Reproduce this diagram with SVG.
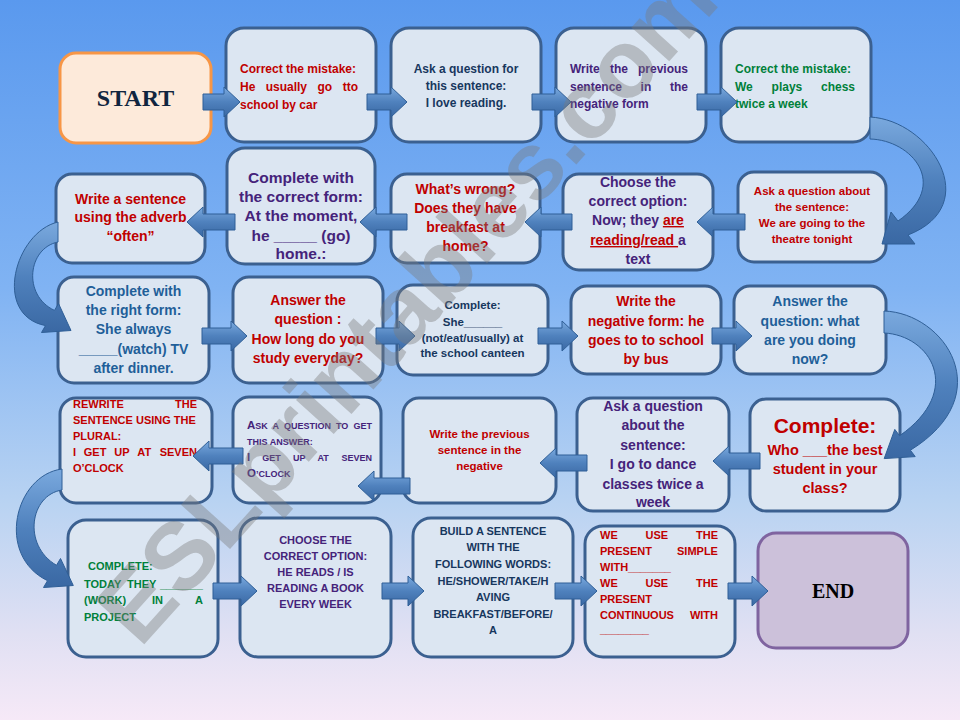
<svg xmlns="http://www.w3.org/2000/svg" width="960" height="720" viewBox="0 0 960 720">
<defs>
<linearGradient id="bg" x1="0" y1="0" x2="0" y2="1">
<stop offset="0" stop-color="#5a99ee"/>
<stop offset="0.4" stop-color="#80b3f3"/>
<stop offset="0.7" stop-color="#b9d3f2"/>
<stop offset="0.88" stop-color="#e0e0f3"/>
<stop offset="1" stop-color="#f6e9f7"/>
</linearGradient>
<linearGradient id="ag" x1="0" y1="0" x2="0" y2="1">
<stop offset="0" stop-color="#7aa9de"/>
<stop offset="0.5" stop-color="#4f81bd"/>
<stop offset="1" stop-color="#3a68a3"/>
</linearGradient>
<style>
.box{fill:#dce6f2;stroke:#3b6090;stroke-width:3}
text{font-family:"Liberation Sans",Arial,sans-serif;font-weight:bold}
.c{text-anchor:middle}
.e{text-anchor:end}
.s9{font-size:9px}.s11{font-size:11px}.s115{font-size:11.5px}.s12{font-size:12px}.s14{font-size:14px}.s145{font-size:14.5px}.s155{font-size:15.5px}
.red{fill:#c00000}.navy{fill:#17375e}.pur{fill:#45237a}.grn{fill:#00803a}.blu{fill:#1f5f99}
.ul{text-decoration:underline}
.arr{fill:url(#ag);stroke:#2f5f97;stroke-width:1}
</style>
</defs>
<rect x="0" y="0" width="960" height="720" fill="url(#bg)"/>

<g id="start">
<rect x="60" y="53" width="151" height="90" rx="16" fill="#fdeada" stroke="#f79646" stroke-width="3"/>
<text x="135.5" y="106" class="c" style="font-family:'Liberation Serif',serif;font-size:24px;fill:#10253f">START</text>
</g>

<g id="n1">
<rect class="box" x="226" y="28" width="150" height="114" rx="18"/>
<text class="s12 red" x="240" y="73">Correct the mistake:</text>
<text class="s12 red" y="91"><tspan x="240">He</tspan><tspan x="265.7">usually</tspan><tspan x="317.5">go</tspan><tspan x="342.7">tto</tspan></text>
<text class="s12 red" x="240" y="109">school by car</text>
</g>

<g id="n2">
<rect class="box" x="391" y="28" width="150" height="114" rx="18"/>
<text class="s12 navy c" x="466" y="73">Ask a question for</text>
<text class="s12 navy c" x="466" y="90">this sentence:</text>
<text class="s12 navy c" x="466" y="107">I love reading.</text>
</g>

<g id="n3">
<rect class="box" x="556" y="28" width="150" height="114" rx="18"/>
<text class="s12 pur" y="73"><tspan x="570">Write</tspan><tspan x="610">the</tspan><tspan x="638">previous</tspan></text>
<text class="s12 pur" y="91"><tspan x="570">sentence</tspan><tspan x="640.6">in</tspan><tspan x="670">the</tspan></text>
<text class="s12 pur" x="570" y="108">negative form</text>
</g>

<g id="n4">
<rect class="box" x="721" y="28" width="150" height="114" rx="18"/>
<text class="s12 grn" x="735" y="73">Correct the mistake:</text>
<text class="s12 grn" y="91"><tspan x="735">We</tspan><tspan x="771.6">plays</tspan><tspan x="821">chess</tspan></text>
<text class="s12 grn" x="735" y="108">twice a week</text>
</g>

<g id="n5">
<rect class="box" x="738" y="172" width="148" height="90" rx="16"/>
<text class="s115 red c" x="812" y="195">Ask a question about</text>
<text class="s115 red c" x="812" y="211">the sentence:</text>
<text class="s115 red c" x="812" y="227">We are going to the</text>
<text class="s115 red c" x="812" y="243">theatre tonight</text>
</g>

<g id="n6">
<rect class="box" x="563" y="174" width="150" height="96" rx="16"/>
<text class="s14 pur c" x="638" y="187">Choose the</text>
<text class="s14 pur c" x="638" y="206">correct option:</text>
<text class="s14 pur c" x="638" y="225">Now; they <tspan class="red ul">are</tspan></text>
<text class="s14 pur c" x="638" y="245"><tspan class="red ul">reading/read </tspan>a</text>
<text class="s14 pur c" x="638" y="264">text</text>
</g>

<g id="n7">
<rect class="box" x="391" y="174" width="149" height="89" rx="16"/>
<text class="s14 red c" x="465.5" y="194">What’s wrong?</text>
<text class="s14 red c" x="465.5" y="213">Does they have</text>
<text class="s14 red c" x="465.5" y="232">breakfast at</text>
<text class="s14 red c" x="465.5" y="251">home?</text>
</g>

<g id="n8">
<rect class="box" x="227" y="148" width="148" height="116" rx="18"/>
<text class="s155 pur c" x="301" y="183">Complete with</text>
<text class="s155 pur c" x="301" y="202">the correct form:</text>
<text class="s155 pur c" x="301" y="221">At the moment,</text>
<text class="s155 pur c" x="301" y="241">he _____ (go)</text>
<text class="s155 pur c" x="301" y="259">home.:</text>
</g>

<g id="n9">
<rect class="box" x="56" y="174" width="149" height="89" rx="16"/>
<text class="s14 red c" x="130.5" y="204">Write a sentence</text>
<text class="s14 red c" x="130.5" y="222">using the adverb</text>
<text class="s14 red c" x="130.5" y="241">“often”</text>
</g>

<g id="n10">
<rect class="box" x="58" y="277" width="151" height="106" rx="16"/>
<text class="s14 blu c" x="133.5" y="296">Complete with</text>
<text class="s14 blu c" x="133.5" y="315">the right form:</text>
<text class="s14 blu c" x="133.5" y="334">She always</text>
<text class="s14 blu c" x="133.5" y="354">_____(watch) TV</text>
<text class="s14 blu c" x="133.5" y="373">after dinner.</text>
</g>

<g id="n11">
<rect class="box" x="233" y="277" width="150" height="106" rx="16"/>
<text class="s14 red c" x="308" y="305">Answer the</text>
<text class="s14 red c" x="308" y="324">question :</text>
<text class="s14 red c" x="308" y="344">How long do you</text>
<text class="s14 red c" x="308" y="363">study everyday?</text>
</g>

<g id="n12">
<rect class="box" x="397" y="285" width="151" height="90" rx="16"/>
<text class="s115 navy c" x="472.5" y="309">Complete:</text>
<text class="s115 navy c" x="472.5" y="326">She______</text>
<text class="s115 navy c" x="472.5" y="342">(not/eat/usually) at</text>
<text class="s115 navy c" x="472.5" y="357">the school canteen</text>
</g>

<g id="n13">
<rect class="box" x="571" y="286" width="150" height="88" rx="16"/>
<text class="s14 red c" x="646" y="306">Write the</text>
<text class="s14 red c" x="646" y="326">negative form: he</text>
<text class="s14 red c" x="646" y="345">goes to to school</text>
<text class="s14 red c" x="646" y="364">by bus</text>
</g>

<g id="n14">
<rect class="box" x="734" y="286" width="152" height="88" rx="16"/>
<text class="s14 blu c" x="810" y="306">Answer the</text>
<text class="s14 blu c" x="810" y="326">question: what</text>
<text class="s14 blu c" x="810" y="345">are you doing</text>
<text class="s14 blu c" x="810" y="364">now?</text>
</g>

<g id="n15">
<rect class="box" x="750" y="399" width="150" height="112" rx="16"/>
<text class="red c" x="825" y="433" style="font-size:21px">Complete:</text>
<text class="s145 red c" x="825" y="455">Who ___the best</text>
<text class="s145 red c" x="825" y="474">student in your</text>
<text class="s145 red c" x="825" y="493">class?</text>
</g>

<g id="n16">
<rect class="box" x="577" y="398" width="152" height="113" rx="16"/>
<text class="s14 pur c" x="653" y="411">Ask a question</text>
<text class="s14 pur c" x="653" y="430">about the</text>
<text class="s14 pur c" x="653" y="450">sentence:</text>
<text class="s14 pur c" x="653" y="469">I go to dance</text>
<text class="s14 pur c" x="653" y="489">classes twice a</text>
<text class="s14 pur c" x="653" y="507">week</text>
</g>

<g id="n17">
<rect class="box" x="403" y="398" width="153" height="105" rx="16"/>
<text class="s115 red c" x="479.5" y="438">Write the previous</text>
<text class="s115 red c" x="479.5" y="454">sentence in the</text>
<text class="s115 red c" x="479.5" y="470">negative</text>
</g>

<g id="n18">
<rect class="box" x="233" y="397" width="148" height="106" rx="16"/>
<text class="s115 pur" y="429"><tspan x="247">A<tspan class="s9">SK</tspan></tspan><tspan class="s9" x="272.4">A</tspan><tspan class="s9" x="283.9">QUESTION</tspan><tspan class="s9" x="336">TO</tspan><tspan class="s9" x="353.5">GET</tspan></text>
<text class="s9 pur" x="247" y="445">THIS ANSWER:</text>
<text class="s115 pur" y="461"><tspan x="247">I</tspan><tspan class="s9" x="262.3">GET</tspan><tspan class="s9" x="292.9">UP</tspan><tspan class="s9" x="317.5">AT</tspan><tspan class="s9" x="341.5">SEVEN</tspan></text>
<text class="s115 pur" x="247" y="477">O<tspan class="s9">’CLOCK</tspan></text>
</g>

<g id="n19">
<rect class="box" x="60" y="398" width="152" height="105" rx="16"/>
<text class="s11 red" y="408"><tspan x="73">REWRITE</tspan><tspan x="175">THE</tspan></text>
<text class="s11 red" x="73" y="424">SENTENCE USING THE</text>
<text class="s11 red" x="73" y="440">PLURAL:</text>
<text class="s11 red" y="456"><tspan x="73">I</tspan><tspan x="83.8">GET</tspan><tspan x="114.2">UP</tspan><tspan x="137.3">AT</tspan><tspan x="159.7">SEVEN</tspan></text>
<text class="s11 red" x="73" y="472">O’CLOCK</text>
</g>

<g id="n20">
<rect class="box" x="68" y="520" width="150" height="137" rx="18"/>
<text class="s11 grn" x="88" y="570">COMPLETE:</text>
<text class="s11 grn" y="588"><tspan x="84">TODAY</tspan><tspan x="127">THEY</tspan><tspan x="160">_______</tspan></text>
<text class="s11 grn" y="604"><tspan x="84">(WORK)</tspan><tspan x="152">IN</tspan><tspan x="195">A</tspan></text>
<text class="s11 grn" x="84" y="621">PROJECT</text>
</g>

<g id="n21">
<rect class="box" x="240" y="518" width="151" height="139" rx="18"/>
<text class="s11 pur c" x="315.5" y="544">CHOOSE THE</text>
<text class="s11 pur c" x="315.5" y="560">CORRECT OPTION:</text>
<text class="s11 pur c" x="315.5" y="576">HE READS / IS</text>
<text class="s11 pur c" x="315.5" y="592">READING A BOOK</text>
<text class="s11 pur c" x="315.5" y="608">EVERY WEEK</text>
</g>

<g id="n22">
<rect class="box" x="413" y="518" width="160" height="139" rx="18"/>
<text class="s11 navy c" x="493" y="535">BUILD A SENTENCE</text>
<text class="s11 navy c" x="493" y="551">WITH THE</text>
<text class="s11 navy c" x="493" y="568">FOLLOWING WORDS:</text>
<text class="s11 navy c" x="493" y="585">HE/SHOWER/TAKE/H</text>
<text class="s11 navy c" x="493" y="601">AVING</text>
<text class="s11 navy c" x="493" y="618">BREAKFAST/BEFORE/</text>
<text class="s11 navy c" x="493" y="634">A</text>
</g>

<g id="n23">
<rect class="box" x="585" y="526" width="150" height="131" rx="18"/>
<text class="s11 red" y="539"><tspan x="600">WE</tspan><tspan x="645.6">USE</tspan><tspan x="696">THE</tspan></text>
<text class="s11 red" y="555"><tspan x="600">PRESENT</tspan><tspan x="677">SIMPLE</tspan></text>
<text class="s11 red" x="600" y="571">WITH_______</text>
<text class="s11 red" y="587"><tspan x="600">WE</tspan><tspan x="645.6">USE</tspan><tspan x="696">THE</tspan></text>
<text class="s11 red" x="600" y="603">PRESENT</text>
<text class="s11 red" y="619"><tspan x="600">CONTINUOUS</tspan><tspan x="689.9">WITH</tspan></text>
<text class="s11 red" x="600" y="633">________</text>
</g>

<g id="end">
<rect x="758" y="533" width="150" height="115" rx="18" fill="#ccc1da" stroke="#7f64a0" stroke-width="3"/>
<text x="833" y="598" class="c" style="font-family:'Liberation Serif',serif;font-size:20px;fill:#000000">END</text>
</g>

<g id="connectors">
<polygon class="arr" points="203,94 224,94 224,87 240,102 224,117 224,110 203,110"/>
<polygon class="arr" points="367,94 391,94 391,87 407,102 391,117 391,110 367,110"/>
<polygon class="arr" points="532,94 555,94 555,87 571,102 555,117 555,110 532,110"/>
<polygon class="arr" points="697,94 721,94 721,87 737,102 721,117 721,110 697,110"/>
<path class="arr" d="M870,117 C930,120 985,205 908,235 L915,244 L882,244 L891,212 L898,221 C950,185 912,140 870,139 Z"/>
<polygon class="arr" points="745,214 713,214 713,207 697,222 713,237 713,230 745,230"/>
<polygon class="arr" points="572,214 541,214 541,207 525,222 541,237 541,230 572,230"/>
<polygon class="arr" points="407,214 376,214 376,207 360,222 376,237 376,230 407,230"/>
<polygon class="arr" points="235,214 203,214 203,207 187,222 203,237 203,230 235,230"/>
<path class="arr" d="M58,222 C15,232 -8,315 45.5,325.6 L41.5,332.5 L71,330.5 L58.5,303.5 L54.5,310.4 C22,295 28,248 58,242 Z"/>
<polygon class="arr" points="202,328 231,328 231,321 247,336 231,351 231,344 202,344"/>
<polygon class="arr" points="376,328 399,328 399,321 415,336 399,351 399,344 376,344"/>
<polygon class="arr" points="538,328 562,328 562,321 578,336 562,351 562,344 538,344"/>
<polygon class="arr" points="712,328 736,328 736,321 752,336 736,351 736,344 712,344"/>
<path class="arr" d="M884,311 C945,313 1000,395 910.4,450.2 L915.2,456.6 L884.2,458.6 L894.8,429.4 L899.6,435.8 C965,390 930,335 884,333 Z"/>
<polygon class="arr" points="760,453 729,453 729,446 713,461 729,476 729,469 760,469"/>
<polygon class="arr" points="587,455 556,455 556,448 540,463 556,478 556,471 587,471"/>
<polygon class="arr" points="410,478 374,478 374,471 358,486 374,501 374,494 410,494"/>
<polygon class="arr" points="243,448 209,448 209,441 193,456 209,471 209,464 243,464"/>
<path class="arr" d="M62,469 C15,475 -5,555 47.5,580.7 L43.5,587.5 L73.3,585.5 L60.5,558.5 L56.5,565.3 C22,545 30,495 62,490 Z"/>
<polygon class="arr" points="213,583 241,583 241,576 257,591 241,606 241,599 213,599"/>
<polygon class="arr" points="382,583 408,583 408,576 424,591 408,606 408,599 382,599"/>
<polygon class="arr" points="555,583 581,583 581,576 597,591 581,606 581,599 555,599"/>
<polygon class="arr" points="728,583 752,583 752,576 768,591 752,606 752,599 728,599"/>
</g>

<g id="watermark">
<text transform="translate(140,649) rotate(-48)" style="font-size:96px;fill:#7a7a7a;fill-opacity:0.4">ESLprintables.com</text>
</g>
</svg>
